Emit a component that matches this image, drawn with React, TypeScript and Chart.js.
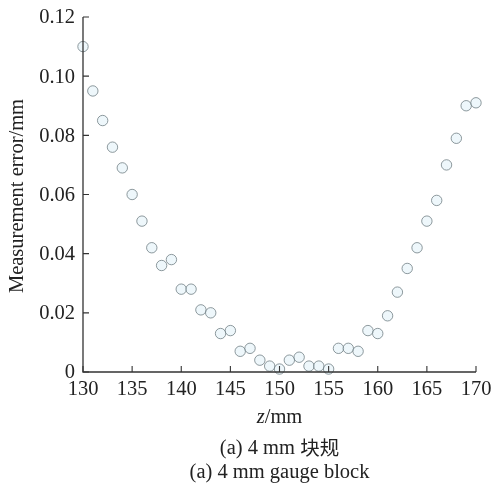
import React, { useEffect, useRef } from "react";
import { Chart, registerables } from "chart.js";

Chart.register(...registerables);

// Position along the z axis (mm)
const zPositions: number[] = [
  130, 131, 132, 133, 134, 135, 136, 137, 138, 139,
  140, 141, 142, 143, 144, 145, 146, 147, 148, 149,
  150, 151, 152, 153, 154, 155, 156, 157, 158, 159,
  160, 161, 162, 163, 164, 165, 166, 167, 168, 169, 170,
];

// Measurement error (mm) at each z position
const errors: number[] = [
  0.110, 0.095, 0.085, 0.076, 0.069, 0.060, 0.051, 0.042, 0.036, 0.038,
  0.028, 0.028, 0.021, 0.020, 0.013, 0.014, 0.007, 0.008, 0.004, 0.002,
  0.001, 0.004, 0.005, 0.002, 0.002, 0.001, 0.008, 0.008, 0.007, 0.014,
  0.013, 0.019, 0.027, 0.035, 0.042, 0.051, 0.058, 0.070, 0.079, 0.090, 0.091,
];

const xTicks: number[] = [130, 135, 140, 145, 150, 155, 160, 165, 170];
const yTicks: number[] = [0, 0.02, 0.04, 0.06, 0.08, 0.1, 0.12];
const yTickLabels: string[] = ["0", "0.02", "0.04", "0.06", "0.08", "0.10", "0.12"];

const yTitle = "Measurement error/mm";
const xTitleItalic = "z";
const xTitleRest = "/mm";
const captionZhLead = "(a) 4 mm ";
const captionZhTail = "块规";
const captionEn = "(a) 4 mm gauge block";

const SERIF = "'Liberation Serif', 'Times New Roman', serif";
const CJK = "'Noto Sans CJK SC', sans-serif";
const INK = "#222";
const FS = 20.5;

// Axis lines, inward tick marks and all text drawn on top of the chart
const decorPlugin = {
  id: "decor",
  afterDraw(chart: any) {
    const { ctx, chartArea } = chart;
    const xs = chart.scales.x;
    const ys = chart.scales.y;
    const { left, right, top, bottom } = chartArea;
    ctx.save();
    ctx.strokeStyle = "#333";
    ctx.lineWidth = 1.3;
    ctx.beginPath();
    ctx.moveTo(left, top);
    ctx.lineTo(left, bottom);
    ctx.lineTo(right, bottom);
    ctx.stroke();

    ctx.lineWidth = 1.1;
    ctx.beginPath();
    xTicks.forEach((v) => {
      const px = xs.getPixelForValue(v);
      ctx.moveTo(px, bottom);
      ctx.lineTo(px, bottom - 6);
    });
    yTicks.forEach((v) => {
      const py = ys.getPixelForValue(v);
      ctx.moveTo(left, py);
      ctx.lineTo(left + 6, py);
    });
    ctx.stroke();

    ctx.fillStyle = INK;
    ctx.font = `${FS}px ${SERIF}`;
    ctx.textAlign = "center";
    ctx.textBaseline = "middle";
    xTicks.forEach((v) => {
      ctx.fillText(String(v), xs.getPixelForValue(v), bottom + 18);
    });
    ctx.textAlign = "right";
    yTicks.forEach((v, i) => {
      ctx.fillText(yTickLabels[i], left - 8, ys.getPixelForValue(v) + 1);
    });

    // x axis title with italic variable
    const cx = (left + right) / 2;
    ctx.textAlign = "left";
    ctx.font = `italic ${FS}px ${SERIF}`;
    const wI = ctx.measureText(xTitleItalic).width;
    ctx.font = `${FS}px ${SERIF}`;
    const wR = ctx.measureText(xTitleRest).width;
    const sx = cx - (wI + wR) / 2;
    ctx.font = `italic ${FS}px ${SERIF}`;
    ctx.fillText(xTitleItalic, sx, bottom + 46);
    ctx.font = `${FS}px ${SERIF}`;
    ctx.fillText(xTitleRest, sx + wI, bottom + 46);

    // captions
    ctx.font = `${FS}px ${SERIF}`;
    const wA = ctx.measureText(captionZhLead).width;
    ctx.font = `${FS - 1}px ${CJK}`;
    const wB = ctx.measureText(captionZhTail).width;
    const zx = cx - (wA + wB) / 2;
    ctx.font = `${FS}px ${SERIF}`;
    ctx.fillText(captionZhLead, zx, bottom + 77);
    ctx.font = `${FS - 1}px ${CJK}`;
    ctx.fillText(captionZhTail, zx + wA, bottom + 76);
    ctx.textAlign = "center";
    ctx.font = `${FS}px ${SERIF}`;
    ctx.fillText(captionEn, cx, bottom + 101);

    ctx.translate(18, 196);
    ctx.rotate(-Math.PI / 2);
    ctx.font = `${FS}px ${SERIF}`;
    ctx.fillText(yTitle, 0, 0);
    ctx.restore();
  },
};

export default function App() {
  const canvasRef = useRef<HTMLCanvasElement | null>(null);

  useEffect(() => {
    const canvas = canvasRef.current;
    if (!canvas) return;
    const chart = new Chart(canvas, {
      type: "scatter",
      data: {
        datasets: [
          {
            data: zPositions.map((z, i) => ({ x: z, y: errors[i] })),
            pointRadius: 5.2,
            pointBorderWidth: 1,
            pointBorderColor: "rgba(105,120,125,0.75)",
            pointBackgroundColor: "rgba(222,240,248,0.5)",
            clip: false,
          },
        ],
      },
      options: {
        animation: false,
        responsive: false,
        maintainAspectRatio: false,
        layout: { padding: { top: 17, right: 19, left: 0, bottom: 0 } },
        plugins: { legend: { display: false }, tooltip: { enabled: false } },
        scales: {
          x: {
            type: "linear",
            min: 130,
            max: 170,
            grid: { display: false, drawTicks: false },
            border: { display: false },
            ticks: { display: false, stepSize: 5 },
            afterFit: (s: any) => {
              s.height = 112;
            },
          },
          y: {
            type: "linear",
            min: 0,
            max: 0.12,
            grid: { display: false, drawTicks: false },
            border: { display: false },
            ticks: { display: false, stepSize: 0.02 },
            afterFit: (s: any) => {
              s.width = 83;
            },
          },
        },
      },
      plugins: [decorPlugin],
    });
    return () => chart.destroy();
  }, []);

  return (
    <div style={{ position: "fixed", left: 0, top: 0, width: 495, height: 484, background: "#fff" }}>
      <canvas ref={canvasRef} width={495} height={484} style={{ width: 495, height: 484 }} />
    </div>
  );
}
